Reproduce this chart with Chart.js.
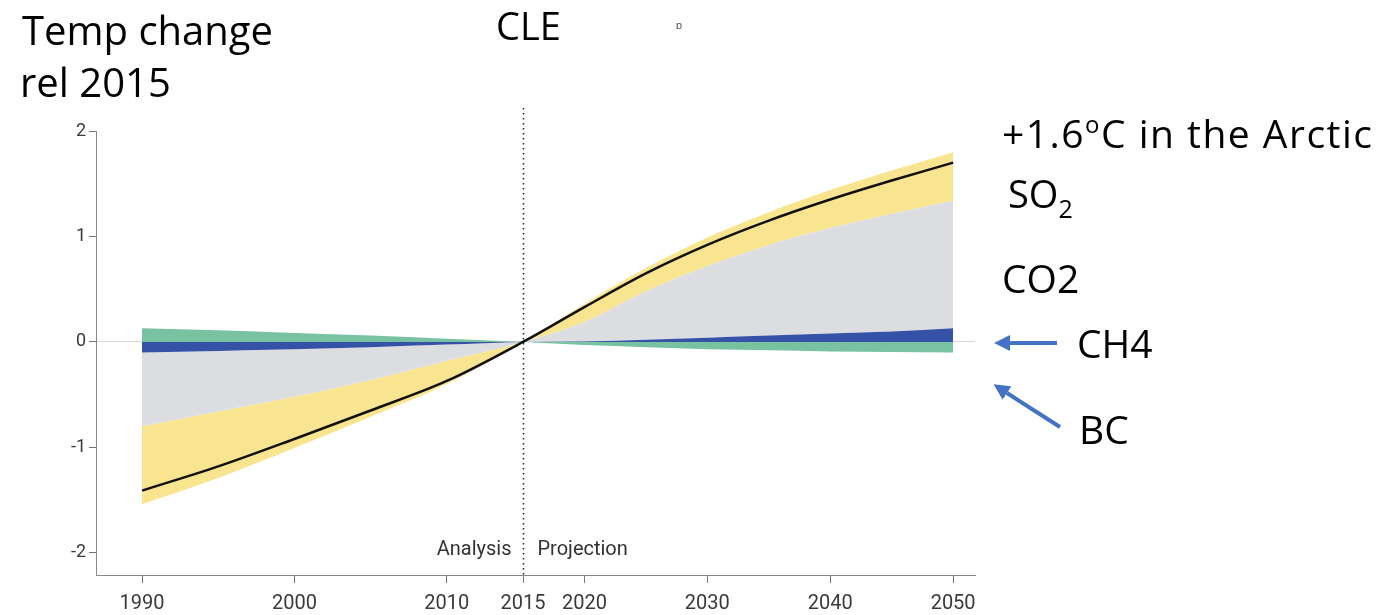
<!DOCTYPE html>
<html>
<head>
<meta charset="utf-8">
<script src="https://cdn.jsdelivr.net/npm/chart.js@4.4.0/dist/chart.umd.min.js"></script>
<style>
    body { margin: 0; background: #fff; }
    #wrap { position: relative; width: 1383px; height: 615px; }
    canvas { position: absolute; left: 0; top: 0; }
    svg { position: absolute; left: 0; top: 0; pointer-events: none; }
    svg text { font-family: "Open Sans", sans-serif; fill: #000; }
</style>
</head>
<body>
<div id="wrap">
    <canvas id="tempChart" width="1383" height="615"></canvas>
    <svg width="1383" height="615">
        <defs>
            <marker id="head" markerWidth="4" markerHeight="4" refX="0" refY="2" orient="auto" markerUnits="strokeWidth">
                <path d="M0,0 L4,2 L0,4 z" fill="#4472c4"/>
            </marker>
        </defs>
        <text x="22" y="45" font-size="40">Temp change</text>
        <text x="20" y="97" font-size="40">rel 2015</text>
        <text x="496" y="40" font-size="38">CLE</text>
        <text x="676" y="29" font-size="11" style="fill:#555">ɒ</text>
        <text x="1002" y="148" font-size="39" textLength="370" lengthAdjust="spacing">+1.6<tspan font-size="24" dy="-15">o</tspan><tspan dy="15">C in the Arctic</tspan></text>
        <text x="1008" y="208" font-size="38">SO<tspan font-size="25" dy="10">2</tspan></text>
        <text x="1002" y="293" font-size="39">CO2</text>
        <text x="1077" y="358" font-size="39">CH4</text>
        <text x="1079" y="444" font-size="39">BC</text>
        <line x1="1057" y1="343" x2="1010" y2="343" stroke="#4472c4" stroke-width="4" marker-end="url(#head)"/>
        <line x1="1060" y1="427" x2="1007" y2="393" stroke="#4472c4" stroke-width="4" marker-end="url(#head)"/>
    </svg>
</div>
<script>
// temperature change relative to 2015 (degC), by driver
const years = [1990, 1995, 2000, 2005, 2010, 2015, 2020, 2025, 2030, 2035, 2040, 2045, 2050];
const ch4 = [-0.10, -0.085, -0.07, -0.05, -0.025, 0, 0.005, 0.02, 0.04, 0.06, 0.08, 0.10, 0.13];
const co2 = [-0.70, -0.575, -0.45, -0.31, -0.155, 0, 0.185, 0.46, 0.68, 0.86, 1.00, 1.115, 1.21];
const so2 = [-0.74, -0.63, -0.485, -0.35, -0.22, 0, 0.17, 0.22, 0.27, 0.31, 0.36, 0.41, 0.46];
const bc = [0.13, 0.11, 0.085, 0.06, 0.03, 0, -0.03, -0.05, -0.07, -0.08, -0.09, -0.095, -0.10];
const total = [-1.41, -1.18, -0.92, -0.65, -0.37, 0, 0.33, 0.65, 0.92, 1.15, 1.35, 1.53, 1.70];

const xTickYears = [1990, 2000, 2010, 2015, 2020, 2030, 2040, 2050];
const yTicks = [2, 1, 0, -1, -2];

// the projection part of the axis is squeezed compared to the analysis part
const splitYear = 2015;
const squeeze = 0.8064;
function xPos(year) {
    return year <= splitYear ? year : splitYear + (year - splitYear) * squeeze;
}

// stack drivers away from zero, positives and negatives separately
const bands = [
    { label: 'CH4', values: ch4, color: '#3652a6' },
    { label: 'CO2', values: co2, color: '#dcdde1' },
    { label: 'SO2', values: so2, color: '#f9e590' },
    { label: 'BC', values: bc, color: '#78c2a2' }
];

function buildDatasets() {
    const pos = years.map(() => 0);
    const neg = years.map(() => 0);
    const datasets = [];
    bands.forEach(band => {
        const base = [];
        const top = [];
        band.values.forEach((v, i) => {
            const start = v >= 0 ? pos[i] : neg[i];
            base.push({ x: xPos(years[i]), y: start });
            top.push({ x: xPos(years[i]), y: start + v });
            if (v >= 0) pos[i] += v; else neg[i] += v;
        });
        datasets.push({
            label: band.label + ' base',
            data: base,
            borderWidth: 0,
            borderColor: 'rgba(0,0,0,0)',
            pointRadius: 0,
            fill: false,
            cubicInterpolationMode: 'monotone'
        });
        datasets.push({
            label: band.label,
            data: top,
            borderWidth: 0,
            borderColor: 'rgba(0,0,0,0)',
            backgroundColor: band.color,
            pointRadius: 0,
            fill: '-1',
            cubicInterpolationMode: 'monotone'
        });
    });
    // lowest order is drawn last, so the total sits on top of the bands
    datasets.push({
        label: 'Total',
        data: years.map((yr, i) => ({ x: xPos(yr), y: total[i] })),
        borderColor: '#111',
        borderWidth: 2.5,
        pointRadius: 0,
        fill: false,
        order: -1,
        cubicInterpolationMode: 'monotone'
    });
    return datasets;
}

const dividerPlugin = {
    id: 'divider',
    afterDatasetsDraw(chart) {
        const { ctx, scales: { x, y } } = chart;
        const px = Math.round(x.getPixelForValue(xPos(splitYear))) + 0.5;
        ctx.save();
        ctx.strokeStyle = '#222';
        ctx.lineWidth = 1.5;
        ctx.setLineDash([1.5, 3.5]);
        ctx.beginPath();
        ctx.moveTo(px, y.top - 23);
        ctx.lineTo(px, y.bottom);
        ctx.stroke();
        ctx.setLineDash([]);
        ctx.font = '20px Roboto';
        ctx.fillStyle = '#333';
        ctx.textBaseline = 'alphabetic';
        ctx.textAlign = 'right';
        ctx.fillText('Analysis', px - 12, y.bottom - 20);
        ctx.textAlign = 'left';
        ctx.fillText('Projection', px + 14, y.bottom - 20);
        ctx.restore();
    }
};

function drawChart() {
    const ctx = document.getElementById('tempChart').getContext('2d');
    new Chart(ctx, {
        type: 'line',
        data: { datasets: buildDatasets() },
        options: {
            responsive: false,
            animation: false,
            layout: { padding: { left: 0, top: 131, right: 408, bottom: 0 } },
            plugins: {
                legend: { display: false },
                tooltip: { enabled: false }
            },
            scales: {
                x: {
                    type: 'linear',
                    min: 1986.98,
                    max: 2044.66,
                    afterBuildTicks: scale => {
                        scale.ticks = xTickYears.map(yr => ({ value: xPos(yr) }));
                    },
                    afterFit: scale => { scale.height = 40; },
                    ticks: {
                        autoSkip: false,
                        maxRotation: 0,
                        padding: 9,
                        color: '#3a3a3a',
                        font: { family: 'Roboto', size: 20 },
                        callback: (value, index) => xTickYears[index]
                    },
                    grid: { drawOnChartArea: false, tickLength: 8, tickColor: '#777' },
                    border: { color: '#888', width: 1 }
                },
                y: {
                    min: -2.21,
                    max: 2,
                    afterBuildTicks: scale => {
                        scale.ticks = yTicks.map(v => ({ value: v }));
                    },
                    afterFit: scale => { scale.width = 96; },
                    ticks: {
                        padding: 3,
                        color: '#3a3a3a',
                        font: { family: 'Roboto', size: 18 }
                    },
                    grid: {
                        color: c => c.tick && c.tick.value === 0 ? '#d6d6d6' : 'rgba(0,0,0,0)',
                        tickColor: '#777',
                        tickLength: 7
                    },
                    border: { color: '#888', width: 1 }
                }
            }
        },
        plugins: [dividerPlugin]
    });
}

document.fonts.load('20px Roboto').then(drawChart, drawChart);
</script>
</body>
</html>
